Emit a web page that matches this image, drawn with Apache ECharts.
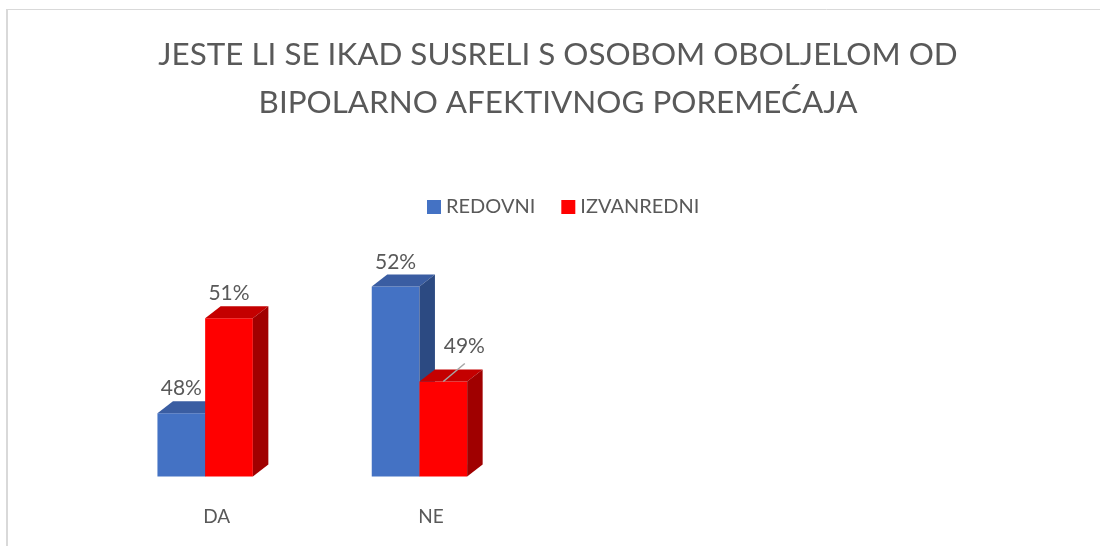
<!DOCTYPE html>
<html>
<head>
<meta charset="utf-8">
<script src="https://cdn.jsdelivr.net/npm/echarts@6/dist/echarts.min.js"></script>
<style>
  html, body { margin: 0; padding: 0; background: #ffffff; }
  #chart { width: 1100px; height: 546px; }
</style>
</head>
<body>
<div id="chart"></div>
<script>
// ---- data ----
const titleText = 'JESTE LI SE IKAD SUSRELI S OSOBOM OBOLJELOM OD\nBIPOLARNO AFEKTIVNOG POREMEĆAJA';
const categories = ['DA', 'NE'];
const seriesNames = ['REDOVNI', 'IZVANREDNI'];
const redovni = [48, 52];
const izvanredni = [51, 49];
const yMin = 46;
const yMax = 56;

// ---- style ----
const FONT = 'Lato, "Open Sans", sans-serif';
const TEXT_COLOR = '#595959';
const FACE = [
  { front: '#4472C4', top: '#3A5DA2', side: '#2C4A82' },
  { front: '#FF0000', top: '#C40000', side: '#A00000' }
];
const BAR_RATIO = 0.2226;   // bar width / category band width
const DX = 15.5, DY = 12;   // 3D depth offsets
const LABEL_NUDGE = { '1-1': [21, -10.5] };

function makeRender(si) {
  return function (params, api) {
    const cat = api.value(0);
    const val = api.value(1);
    const top = api.coord([cat, val]);
    const base = api.coord([cat, yMin]);
    const band = api.size([1, 0])[0];
    const w = band * BAR_RATIO;
    const x0 = top[0] + (si === 0 ? -w : 0);
    const x1 = x0 + w;
    const yt = top[1], yb = base[1];
    const c = FACE[si];
    const children = [
      { type: 'rect', shape: { x: x0, y: yt, width: w, height: yb - yt }, style: { fill: c.front } },
      { type: 'polygon', shape: { points: [[x0, yt], [x0 + DX, yt - DY], [x1 + DX, yt - DY], [x1, yt]] }, style: { fill: c.top } },
      { type: 'polygon', shape: { points: [[x1, yt], [x1 + DX, yt - DY], [x1 + DX, yb - DY], [x1, yb]] }, style: { fill: c.side } }
    ];
    const cx = (x0 + x1) / 2;
    const nudge = LABEL_NUDGE[si + '-' + params.dataIndex] || [0, 0];
    const lx = cx + nudge[0];
    const ly = yt - 24.5 + nudge[1];
    if (nudge[0] !== 0 || nudge[1] !== 0) {
      children.push({ type: 'line', z2: 10, shape: { x1: lx + 0.5, y1: ly + 17, x2: cx, y2: yt }, style: { stroke: '#A6A6A6', lineWidth: 1.5 } });
    }
    children.push({
      type: 'text', z2: 10,
      style: { text: val + '%', x: lx, y: ly, align: 'center', verticalAlign: 'middle', fill: TEXT_COLOR, font: '21px ' + FONT }
    });
    return { type: 'group', children: children };
  };
}

const chart = echarts.init(document.getElementById('chart'), null, { renderer: 'canvas' });
const valuesList = [redovni, izvanredni];
chart.setOption({
  backgroundColor: '#ffffff',
  animation: false,
  color: [FACE[0].front, FACE[1].front],
  title: {
    text: titleText,
    left: 553,
    textAlign: 'center',
    top: 26,
    textStyle: { fontFamily: FONT, fontSize: 31.4, fontWeight: 'normal', color: TEXT_COLOR, lineHeight: 48 }
  },
  legend: {
    data: seriesNames,
    left: 427,
    top: 197,
    padding: 0,
    icon: 'rect',
    itemWidth: 14,
    itemHeight: 14,
    itemGap: 26,
    textStyle: { fontFamily: FONT, fontSize: 20, color: TEXT_COLOR }
  },
  graphic: [
    { type: 'line', shape: { x1: 7, y1: 9, x2: 7, y2: 546 }, style: { stroke: '#D9D9D9', lineWidth: 2 } },
    { type: 'line', shape: { x1: 6, y1: 9.5, x2: 1100, y2: 9.5 }, style: { stroke: '#D9D9D9', lineWidth: 1 } }
  ],
  grid: { left: 98, width: 428.6, top: 159.8, bottom: 69.5, containLabel: false },
  xAxis: {
    type: 'category',
    data: categories,
    axisLine: { show: false },
    axisTick: { show: false },
    splitLine: { show: false },
    axisLabel: { margin: 31, fontFamily: FONT, fontSize: 19, color: TEXT_COLOR, padding: [0, 0, 0, 23] }
  },
  yAxis: { type: 'value', min: yMin, max: yMax, show: false, splitLine: { show: false } },
  series: seriesNames.map(function (name, si) {
    return {
      name: name,
      type: 'custom',
      renderItem: makeRender(si),
      encode: { x: 0, y: 1 },
      data: valuesList[si].map(function (v, i) { return [i, v]; })
    };
  })
});
</script>
</body>
</html>
